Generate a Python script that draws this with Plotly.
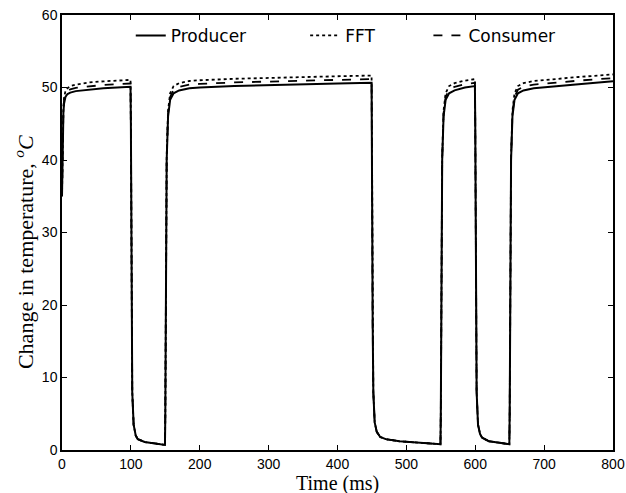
import plotly.graph_objects as go

time_ms = [0, 1, 2, 3, 5, 8, 12, 20, 40, 60, 80, 99.5,
           100, 100.5, 101, 102, 104, 107, 110, 120, 135, 149.5,
           150, 150.5, 151, 152, 154, 157, 162, 170, 185, 200, 250, 300, 350, 400, 449.5,
           450, 450.5, 451, 452, 454, 457, 462, 470, 490, 520, 549.5,
           550, 550.5, 551, 552, 554, 557, 562, 570, 585, 599.5,
           600, 600.5, 601, 602, 604, 607, 610, 620, 635, 649.5,
           650, 650.5, 651, 652, 654, 657, 662, 670, 685, 700, 750, 800]

producer = [35, 44, 46.5, 47.8, 48.7, 49.1, 49.3, 49.5, 49.75, 49.9, 50.0, 50.1,
            45, 30, 18, 8, 3.5, 2.0, 1.5, 1.1, 0.9, 0.7,
            5, 20, 32, 40, 46, 48.3, 49.2, 49.6, 49.9, 50.0, 50.2, 50.35, 50.45, 50.55, 50.65,
            45, 30, 18, 8, 3.8, 2.5, 1.8, 1.5, 1.2, 1.0, 0.8,
            5, 20, 32, 40, 46, 48.3, 49.2, 49.6, 50.0, 50.2,
            45, 30, 18, 8, 3.5, 2.2, 1.7, 1.2, 1.0, 0.8,
            5, 20, 32, 40, 46, 48.3, 49.2, 49.6, 49.9, 50.05, 50.45, 50.85]

fft = [35, 44.5, 47.2, 48.6, 49.5, 49.9, 50.2, 50.4, 50.7, 50.85, 50.95, 51.05,
       45, 30, 18, 8, 3.5, 2.0, 1.5, 1.1, 0.9, 0.7,
       5, 20, 32, 40.5, 46.8, 49.2, 50.2, 50.6, 50.9, 51.0, 51.2, 51.35, 51.45, 51.55, 51.65,
       45, 30, 18, 8, 3.8, 2.5, 1.8, 1.5, 1.2, 1.0, 0.8,
       5, 20, 32, 40.5, 46.8, 49.2, 50.2, 50.6, 50.95, 51.15,
       45, 30, 18, 8, 3.5, 2.2, 1.7, 1.2, 1.0, 0.8,
       5, 20, 32, 40.5, 46.8, 49.2, 50.2, 50.6, 50.9, 51.05, 51.45, 51.8]

consumer = [35, 44.2, 46.9, 48.2, 49.1, 49.5, 49.75, 49.95, 50.2, 50.35, 50.45, 50.55,
            45, 30, 18, 8, 3.5, 2.0, 1.5, 1.1, 0.9, 0.7,
            5, 20, 32, 40.2, 46.4, 48.7, 49.7, 50.1, 50.4, 50.5, 50.7, 50.85, 50.95, 51.05, 51.15,
            45, 30, 18, 8, 3.8, 2.5, 1.8, 1.5, 1.2, 1.0, 0.8,
            5, 20, 32, 40.2, 46.4, 48.7, 49.7, 50.1, 50.45, 50.65,
            45, 30, 18, 8, 3.5, 2.2, 1.7, 1.2, 1.0, 0.8,
            5, 20, 32, 40.2, 46.4, 48.7, 49.7, 50.1, 50.4, 50.55, 50.95, 51.3]

NB = "\u00a0"
series = [
    ("Producer" + NB * 10, producer, "solid", 2.0),
    ("FFT" + NB * 9, fft, "dot", 1.8),
    ("Consumer", consumer, "dash", 1.8),
]

fig = go.Figure()
for name, vals, dash, w in series:
    fig.add_trace(go.Scatter(x=time_ms, y=vals, mode="lines", name=name,
                             line=dict(color="black", width=w, dash=dash)))

axis_common = dict(showline=True, linecolor="black", linewidth=1.5, mirror="ticks",
                   ticks="inside", ticklen=5, tickcolor="black", tickwidth=1,
                   showgrid=False, zeroline=False, automargin=False,
                   tickfont=dict(family="Liberation Sans, Arial", size=14, color="black"))

fig.update_xaxes(range=[0, 800], dtick=100, **axis_common)
fig.update_yaxes(range=[0, 60], dtick=10, **axis_common)

fig.add_annotation(text="Time (ms)", xref="paper", yref="paper", x=0.5, y=-0.078,
                   xanchor="center", yanchor="middle", showarrow=False,
                   font=dict(family="Liberation Serif", size=20, color="black"))

fig.add_annotation(text="Change in temperature, <sup><i>o</i></sup><i>C</i>",
                   xref="paper", yref="paper", x=-0.069, y=0.455,
                   xanchor="center", yanchor="middle", textangle=-90, showarrow=False,
                   font=dict(family="Liberation Serif", size=22, color="black"))

fig.update_layout(
    width=626, height=493,
    margin=dict(l=62, r=13, t=15, b=43),
    paper_bgcolor="white", plot_bgcolor="white",
    showlegend=True,
    legend=dict(orientation="h", x=0.515, xanchor="center", y=0.952, yanchor="middle",
                bgcolor="rgba(0,0,0,0)", font=dict(family="DejaVu Sans", size=17, color="black")),
)

fig.write_html("out.html")
